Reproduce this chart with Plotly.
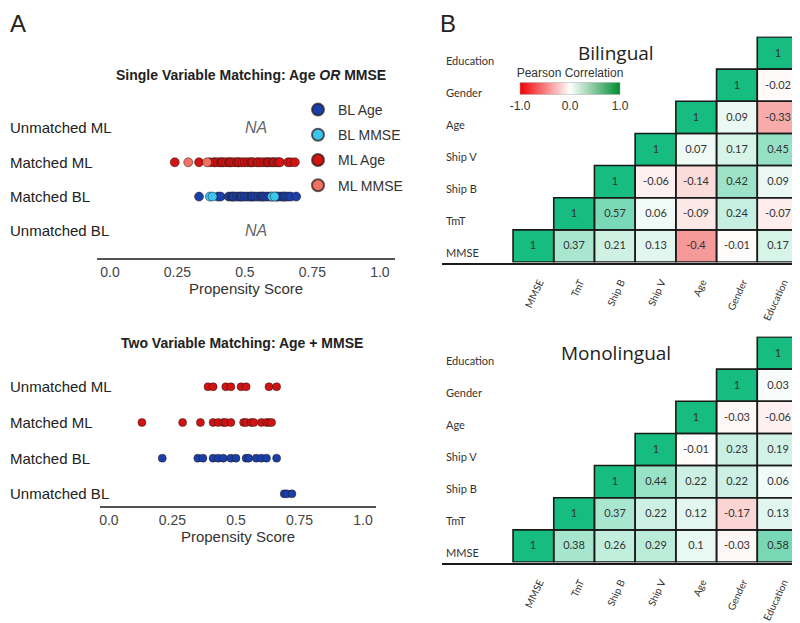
import plotly.graph_objects as go

# page has an 8px body margin; figure sized so it fills the 800x623 window
OFF = 8
W, H = 800 - OFF, 623 - OFF

# ---------------- Panel A data ----------------
rows_A = ["Unmatched BL", "Matched BL", "Matched ML", "Unmatched ML"]
row_pos = {"Unmatched BL": 1, "Matched BL": 2, "Matched ML": 3, "Unmatched ML": 4}

# Single variable matching (Matched rows only; unmatched = NA)
single_bl_age = [0.33, 0.40, 0.41, 0.44, 0.45, 0.455, 0.46, 0.47, 0.48, 0.485, 0.49, 0.50,
                 0.51, 0.52, 0.525, 0.53, 0.54, 0.55, 0.56, 0.565, 0.57, 0.58, 0.59, 0.60,
                 0.615, 0.62, 0.63, 0.64, 0.645, 0.65, 0.66, 0.67, 0.69]
single_bl_mmse = [0.37, 0.38, 0.60, 0.61]
single_ml_age = [0.24, 0.33, 0.37, 0.385, 0.39, 0.40, 0.41, 0.415, 0.42, 0.43, 0.44, 0.445,
                 0.45, 0.46, 0.47, 0.475, 0.48, 0.49, 0.50, 0.51, 0.52, 0.525, 0.53, 0.545,
                 0.55, 0.56, 0.57, 0.58, 0.585, 0.59, 0.60, 0.605, 0.61, 0.62, 0.625, 0.63,
                 0.66, 0.67, 0.685]
single_ml_mmse = [0.29, 0.36]

# Two variable matching
two_unmatched_ml = [0.39, 0.41, 0.46, 0.48, 0.52, 0.54, 0.63, 0.66]
two_matched_ml = [0.13, 0.29, 0.36, 0.41, 0.43, 0.45, 0.46, 0.48, 0.53, 0.54, 0.56, 0.57,
                  0.60, 0.62, 0.63, 0.64]
two_matched_bl = [0.21, 0.35, 0.37, 0.41, 0.43, 0.45, 0.48, 0.50, 0.54, 0.55, 0.58, 0.60,
                  0.62, 0.66]
two_unmatched_bl = [0.69, 0.70, 0.72]

ps_ticks = [0, 0.25, 0.5, 0.75, 1.0]
ps_ticktext = ["0.0", "0.25", "0.5", "0.75", "1.0"]

# ---------------- Panel B data ----------------
vars_B = ["MMSE", "TmT", "Ship B", "Ship V", "Age", "Gender", "Education"]
# upper-triangle rows, starting at the diagonal
bilingual = [
    [1, 0.37, 0.21, 0.13, -0.4, -0.01, 0.17],
    [1, 0.57, 0.06, -0.09, 0.24, -0.07],
    [1, -0.06, -0.14, 0.42, 0.09],
    [1, 0.07, 0.17, 0.45],
    [1, 0.09, -0.33],
    [1, -0.02],
    [1],
]
monolingual = [
    [1, 0.38, 0.26, 0.29, 0.1, -0.03, 0.58],
    [1, 0.37, 0.22, 0.12, -0.17, 0.13],
    [1, 0.44, 0.22, 0.22, 0.06],
    [1, -0.01, 0.23, 0.19],
    [1, -0.03, -0.06],
    [1, 0.03],
    [1],
]

# ---------------- helpers (absolute window pixels -> paper coords) ----------------
def dx(p):
    return (p - OFF) / W

def dy(p):
    return 1 - (p - OFF) / H

FONT = "Liberation Sans"
CAL = "Lato"
BLUE_D = "#1840a8"
BLUE_L = "#3cc6ee"
RED_D = "#d01414"
RED_L = "#f07262"

fig = go.Figure()

def dots(xs, row, color, name, axis, show, size=9):
    fig.add_trace(go.Scatter(
        x=xs, y=[row_pos[row]] * len(xs), mode="markers",
        marker=dict(color=color, size=size, line=dict(color="rgba(40,20,20,0.7)", width=0.7)),
        name=name, showlegend=show, legendgroup=name + axis,
        xaxis="x" + axis, yaxis="y" + axis, hoverinfo="x"))

# Top A: single variable
dots(single_bl_age, "Matched BL", BLUE_D, "BL Age", "", True)
dots(single_bl_mmse, "Matched BL", BLUE_L, "BL MMSE", "", True)
dots(single_ml_age, "Matched ML", RED_D, "ML Age", "", True)
dots(single_ml_mmse, "Matched ML", RED_L, "ML MMSE", "", True)

# Bottom A: two variable
dots(two_unmatched_ml, "Unmatched ML", RED_D, "ML", "2", False, 8)
dots(two_matched_ml, "Matched ML", RED_D, "ML", "2", False, 8)
dots(two_matched_bl, "Matched BL", BLUE_D, "BL", "2", False, 8)
dots(two_unmatched_bl, "Unmatched BL", BLUE_D, "BL", "2", False, 8)

# ---------------- heatmaps ----------------
cell_scale = [[0, "rgb(232,0,0)"], [0.5, "rgb(255,255,255)"], [1, "rgb(22,188,128)"]]
bar_scale = [[0, "rgb(240,0,0)"], [0.5, "rgb(255,255,255)"], [1, "rgb(0,140,50)"]]

shapes = []
annotations = []

def heat(tri, axis):
    n = len(vars_B)
    z = [[None] * n for _ in range(n)]
    txt = [[""] * n for _ in range(n)]
    for j, row in enumerate(tri):
        for k, v in enumerate(row):
            i = j + k
            z[j][i] = v
            txt[j][i] = f"{v:g}"
            shapes.append(dict(type="rect", xref="x" + axis, yref="y" + axis,
                               x0=i - 0.5, x1=i + 0.5, y0=j - 0.5, y1=j + 0.5,
                               line=dict(color="#1a1a1a", width=1.6), layer="above"))
    fig.add_trace(go.Heatmap(
        z=z, x=list(range(n)), y=list(range(n)), text=txt, texttemplate="%{text}",
        textfont=dict(family=CAL, size=11, color="#333"),
        colorscale=cell_scale, zmin=-1, zmax=1, showscale=False,
        xaxis="x" + axis, yaxis="y" + axis, hoverinfo="skip"))
    for j, v in enumerate(vars_B):
        annotations.append(dict(xref="x" + axis, yref="y" + axis, x=-2.2, y=j, yshift=-7,
                                text=v, showarrow=False, xanchor="left", yanchor="middle",
                                font=dict(family=CAL, size=11, color="#333")))

heat(bilingual, "3")
heat(monolingual, "4")

# colorbar (legend of the colour scale)
fig.add_trace(go.Scatter(
    x=[None], y=[None], mode="markers", xaxis="x3", yaxis="y3", showlegend=False,
    hoverinfo="skip",
    marker=dict(color=[0], colorscale=bar_scale, cmin=-1, cmax=1, showscale=True,
                colorbar=dict(orientation="h", x=dx(570), xanchor="center",
                              y=dy(109), yanchor="bottom", lenmode="pixels", len=100,
                              thicknessmode="pixels", thickness=12, xpad=0, ypad=0,
                              outlinewidth=0.5, outlinecolor="#aaa",
                              title=dict(text="Pearson Correlation", side="top",
                                         font=dict(family=FONT, size=12, color="#333")),
                              tickvals=[-1, 0, 1], ticktext=["-1.0", "0.0", "1.0"],
                              ticks="", tickfont=dict(family=FONT, size=12, color="#333")))))

# ---------------- layout ----------------
def ps_xaxis(domain, rng, anchor):
    return dict(domain=domain, range=rng, anchor=anchor, showline=True, linecolor="#555",
                linewidth=2, showgrid=False, zeroline=False, tickvals=ps_ticks,
                ticktext=ps_ticktext, ticks="",
                tickfont=dict(family=FONT, size=14, color="#444"),
                title=dict(text="Propensity Score", standoff=2,
                           font=dict(family=FONT, size=15, color="#333")))

def hm_xaxis(domain, anchor):
    return dict(domain=domain, range=[-2.245, 6.55], anchor=anchor, showline=True,
                linecolor="#1a1a1a", linewidth=2, showgrid=False, zeroline=False,
                tickvals=list(range(len(vars_B))), ticktext=vars_B, tickangle=-65,
                ticks="outside", ticklen=8, tickcolor="rgba(0,0,0,0)", ticklabelshift=6,
                tickfont=dict(family=CAL, size=10, color="#333"))

def hm_yaxis(domain, anchor):
    return dict(domain=domain, range=[-0.52, 6.52], anchor=anchor, visible=False,
                showgrid=False, zeroline=False)

fig.update_layout(
    width=W, height=H, margin=dict(l=0, r=0, t=0, b=0, autoexpand=False),
    paper_bgcolor="white", plot_bgcolor="white",
    xaxis=ps_xaxis([dx(97), dx(395)], [-0.048, 1.056], "y"),
    yaxis=dict(domain=[dy(258), dy(95)], range=[0.21, 4.96], visible=False, anchor="x"),
    xaxis2=ps_xaxis([dx(100), dx(376)], [-0.035, 1.051], "y2"),
    yaxis2=dict(domain=[dy(506), dy(365)], range=[0.66, 4.61], visible=False, anchor="x2"),
    xaxis3=hm_xaxis([dx(442), 1.0], "y3"),
    yaxis3=hm_yaxis([dy(262.6), dy(36.4)], "x3"),
    xaxis4=hm_xaxis([dx(442), 1.0], "y4"),
    yaxis4=hm_yaxis([dy(562.6), dy(336.4)], "x4"),
    legend=dict(x=dx(298), y=dy(94), xanchor="left", yanchor="top",
                font=dict(family=FONT, size=14, color="#333"), tracegroupgap=4,
                itemsizing="constant", bgcolor="rgba(0,0,0,0)"),
    showlegend=True,
)

# Panel A annotations
for r in rows_A:
    for ax in ["", "2"]:
        annotations.append(dict(xref="paper", yref="y" + ax, x=dx(OFF), y=row_pos[r],
                                xanchor="left", yanchor="middle", text=r, showarrow=False,
                                font=dict(family=FONT, size=15, color="#222")))
for r in ["Unmatched ML", "Unmatched BL"]:
    annotations.append(dict(xref="x", yref="y", x=0.54, y=row_pos[r], text="<i>NA</i>",
                            yanchor="middle", showarrow=False,
                            font=dict(family=FONT, size=16, color="#666")))

def label(x, y, text, size, family=FONT, xanchor="center", yanchor="middle"):
    annotations.append(dict(xref="paper", yref="paper", x=dx(x), y=dy(y), text=text,
                            showarrow=False, xanchor=xanchor, yanchor=yanchor,
                            font=dict(family=family, size=size, color="#222")))

label(251, 75, "<b>Single Variable Matching: Age <i>OR</i> MMSE</b>", 14)
label(242, 343, "<b>Two Variable Matching: Age + MMSE</b>", 14)
label(OFF, OFF, "A", 24, xanchor="left", yanchor="top")
label(438, OFF, "B", 24, xanchor="left", yanchor="top")
label(616, 53, "Bilingual", 19, family="Open Sans")
label(616, 353, "Monolingual", 19, family="Open Sans")

fig.update_layout(shapes=shapes, annotations=annotations)
fig.write_html("out.html")
